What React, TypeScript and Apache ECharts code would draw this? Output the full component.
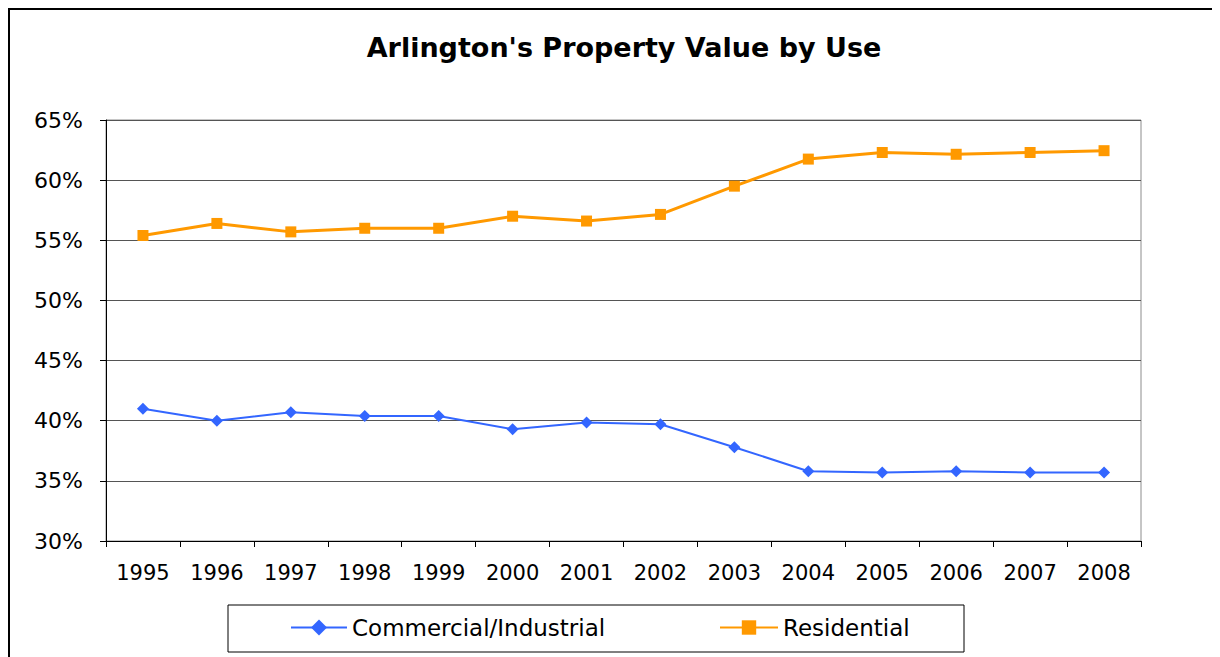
import React, { useEffect, useRef } from "react";
import * as echarts from "echarts";

const years = ["1995", "1996", "1997", "1998", "1999", "2000", "2001", "2002", "2003", "2004", "2005", "2006", "2007", "2008"];
const commercial = [41.0, 40.0, 40.7, 40.4, 40.4, 39.3, 39.85, 39.7, 37.8, 35.8, 35.7, 35.8, 35.7, 35.7];
const residential = [55.4, 56.4, 55.7, 56.0, 56.0, 57.0, 56.6, 57.15, 59.5, 61.75, 62.3, 62.15, 62.3, 62.45];
const titleText = "Arlington's Property Value by Use";
const seriesNames = ["Commercial/Industrial", "Residential"];

const FONT = "'DejaVu Sans', sans-serif";

export default function App() {
  const ref = useRef<HTMLDivElement>(null);
  useEffect(() => {
    if (!ref.current) return;
    const chart = echarts.init(ref.current, null, { renderer: "svg" });
    chart.setOption({
      animation: false,
      backgroundColor: "#fff",
      textStyle: { fontFamily: FONT },
      title: {
        text: titleText,
        left: 611,
        top: 21,
        textAlign: "center",
        textStyle: { fontFamily: FONT, fontSize: 27, fontWeight: "bold", color: "#000" },
      },
      grid: {
        left: 98,
        top: 112,
        width: 1035,
        height: 421,
        containLabel: false,
        outerBoundsMode: "none",
        show: true,
        borderColor: "#8c8c8c",
        borderWidth: 1,
        backgroundColor: "transparent",
      },
      xAxis: {
        type: "category",
        data: years,
        boundaryGap: true,
        axisLine: { lineStyle: { color: "#000", width: 1 } },
        axisTick: { show: true, length: 6, lineStyle: { color: "#000" } },
        axisLabel: { color: "#000", fontSize: 21, fontFamily: FONT, margin: 21, interval: 0 },
        splitLine: { show: false },
      },
      yAxis: {
        type: "value",
        min: 30,
        max: 65,
        interval: 5,
        axisLine: { show: true, lineStyle: { color: "#000", width: 1 } },
        axisTick: { show: true, length: 6, lineStyle: { color: "#000" } },
        axisLabel: { color: "#000", fontSize: 22, fontFamily: FONT, margin: 23, formatter: "{value}%" },
        splitLine: { show: true, lineStyle: { color: "#555", width: 1 } },
      },
      legend: [
        {
          data: [seriesNames[0]],
          left: 282,
          top: 608,
          itemWidth: 56,
          itemHeight: 20,
          textStyle: { fontSize: 23, fontFamily: FONT, color: "#000" },
          padding: 0,
        },
        {
          data: [seriesNames[1]],
          left: 711,
          top: 608,
          itemWidth: 58,
          itemHeight: 18,
          textStyle: { fontSize: 23, fontFamily: FONT, color: "#000" },
          padding: 0,
        },
      ],
      graphic: [
        {
          type: "rect",
          shape: { x: 1, y: 1, width: 1500, height: 1000 },
          style: { fill: "none", stroke: "#000", lineWidth: 2 },
          silent: true,
        },
        {
          type: "rect",
          shape: { x: 220, y: 597, width: 736, height: 47 },
          style: { fill: "none", stroke: "#000", lineWidth: 1 },
          silent: true,
        },
      ],
      series: [
        {
          name: seriesNames[0],
          type: "line",
          data: commercial,
          symbol: "diamond",
          symbolSize: 12,
          itemStyle: { color: "#3366FF" },
          lineStyle: { color: "#3366FF", width: 2 },
        },
        {
          name: seriesNames[1],
          type: "line",
          data: residential,
          symbol: "rect",
          symbolSize: 11,
          itemStyle: { color: "#FF9900" },
          lineStyle: { color: "#FF9900", width: 3 },
        },
      ],
    });
    return () => chart.dispose();
  }, []);
  return <div ref={ref} style={{ width: 1212, height: 649, overflow: "hidden" }} />;
}
